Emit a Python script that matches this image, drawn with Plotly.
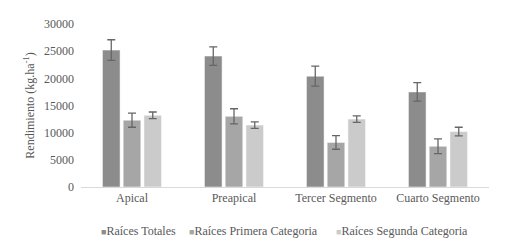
import plotly.graph_objects as go

categories = ["Apical", "Preapical", "Tercer Segmento", "Cuarto Segmento"]
series_names = ["Raíces Totales", "Raíces Primera Categoria", "Raíces Segunda Categoria"]
totales = [25200, 24100, 20400, 17500]
totales_err = [1900, 1700, 1850, 1700]
primera = [12300, 13000, 8200, 7500]
primera_err = [1300, 1400, 1250, 1350]
segunda = [13200, 11400, 12500, 10200]
segunda_err = [600, 600, 600, 800]
colors = ["#8c8c8c", "#a6a6a6", "#cbcbcb"]
y_ticks = [0, 5000, 10000, 15000, 20000, 25000, 30000]

fig = go.Figure()
for name, vals, errs, col in zip(series_names, [totales, primera, segunda],
                                 [totales_err, primera_err, segunda_err], colors):
    fig.add_trace(go.Bar(
        x=categories, y=vals, name=name, showlegend=False,
        marker=dict(color=col, line=dict(color="white", width=0.5)),
        error_y=dict(type="data", array=errs, color="#666666", thickness=1.3, width=4),
    ))

font = "Liberation Serif, Times New Roman, serif"

# legend drawn as text entries (small squares like the original)
legend_x = [0.045, 0.26, 0.62]
for name, col, lx in zip(series_names, colors, legend_x):
    fig.add_annotation(
        xref="paper", yref="paper", x=lx, y=-0.27, xanchor="left", yanchor="middle",
        showarrow=False,
        text=f'<span style="color:{col};font-size:9px">■</span>{name}',
        font=dict(family=font, size=12, color="#595959"),
    )

fig.update_layout(
    width=519, height=249,
    margin=dict(l=81, r=30, t=24, b=62, autoexpand=False),
    paper_bgcolor="white", plot_bgcolor="white",
    barmode="group", bargap=0.39, bargroupgap=0.15,
    font=dict(family=font, size=12, color="#595959"),
    showlegend=False,
    xaxis=dict(showline=True, linecolor="#d9d9d9", linewidth=1, ticks="",
               tickfont=dict(family=font, size=12, color="#595959"),
               tickangle=0, showgrid=False, automargin=False),
    yaxis=dict(range=[0, 30000], tickvals=y_ticks, tickformat="d", showgrid=False,
               showline=False, zeroline=False, ticks="", ticklabelstandoff=6,
               automargin=False,
               tickfont=dict(family=font, size=12, color="#595959"),
               title=dict(text="Rendimiento (kg.ha<sup>-1</sup>)", standoff=6,
                          font=dict(family=font, size=12, color="#595959"))),
)
fig.write_html("out.html", config={"displayModeBar": False},
               post_script="document.body.style.margin='0';document.body.style.overflow='hidden';")
